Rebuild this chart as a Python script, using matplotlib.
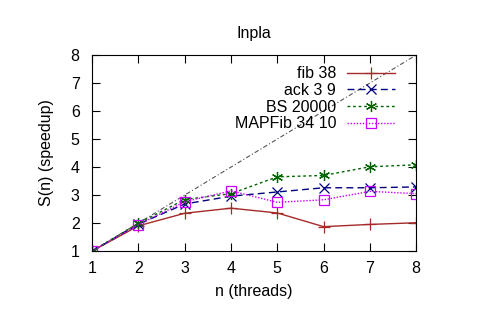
import matplotlib
matplotlib.use("Agg")
import matplotlib.pyplot as plt

threads = [1, 2, 3, 4, 5, 6, 7, 8]
fib = [1.0, 1.90, 2.35, 2.53, 2.36, 1.87, 1.95, 2.01]
ack = [1.0, 1.96, 2.68, 2.96, 3.11, 3.26, 3.26, 3.29]
bs = [1.0, 1.99, 2.84, 3.05, 3.65, 3.70, 4.01, 4.08]
mapfib = [1.0, 1.94, 2.76, 3.15, 2.74, 2.83, 3.13, 3.05]

plt.rcParams['font.family'] = ['Liberation Sans', 'DejaVu Sans']

fig = plt.figure(figsize=(4.93, 3.26), dpi=100)
ax = fig.add_axes([0.187, 0.230, 0.657, 0.601])

# ideal speedup
ax.plot(threads, threads, color='#555555', lw=0.8, dashes=(4, 2, 1, 2))

ax.plot(threads, fib, color='#a52a2a', lw=1, marker='+', ms=8, mew=0.9,
        label='fib 38')
ax.plot(threads, ack, color='#000080', lw=1, dashes=(5, 3), marker='x',
        ms=6.5, mew=0.9, label='ack 3 9')
ax.plot(threads, bs, color='#006400', lw=1, dashes=(2, 2), marker=(6, 2, 0),
        ms=8, mew=0.9, label='BS 20000')
ax.plot(threads, mapfib, color='#cc00ff', lw=1, dashes=(1, 1.2), marker='s',
        ms=6.5, mew=0.9, mfc='none', label='MAPFib 34 10')

ax.set_xlim(1, 8)
ax.set_ylim(1, 8)
ax.set_xticks(threads)
ax.set_yticks(range(1, 9))
ax.tick_params(direction='in', top=True, right=True, labelsize=11.5,
               length=6)
ax.tick_params(axis='x', pad=7)
ax.tick_params(axis='y', pad=9)
ax.set_xlabel('n (threads)', fontsize=11.5, labelpad=6)
ax.set_ylabel('S(n) (speedup)', fontsize=11.5, labelpad=12)
ax.set_title('Inpla', fontsize=11.5, pad=12)

ax.legend(loc='upper right', bbox_to_anchor=(0.955, 0.975), frameon=False,
          markerfirst=False, fontsize=11.5, handlelength=3, borderaxespad=0,
          labelspacing=0.1, handletextpad=0.7)
for t in ax.get_legend().get_texts():
    t.set_ha('right')

fig.savefig('out.png', dpi=100)
